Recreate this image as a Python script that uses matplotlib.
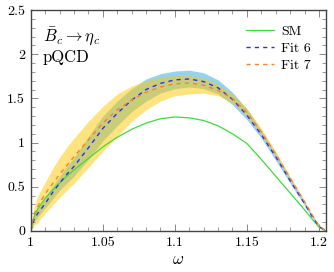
import numpy as np
import matplotlib
matplotlib.use("Agg")
import matplotlib.pyplot as plt
from matplotlib.ticker import MultipleLocator, FuncFormatter

plt.rcParams['font.family'] = 'serif'
plt.rcParams['font.serif'] = ['cmr10', 'DejaVu Serif']
plt.rcParams['mathtext.fontset'] = 'cm'
plt.rcParams['axes.formatter.use_mathtext'] = True

# valori
w = [1.0, 1.0025, 1.005, 1.01, 1.015, 1.02, 1.025, 1.03, 1.04, 1.05, 1.06, 1.07,
     1.08, 1.09, 1.10, 1.11, 1.12, 1.13, 1.14, 1.15, 1.16, 1.17, 1.18, 1.19,
     1.195, 1.20, 1.2049]

sm = [0, 0.17, 0.25, 0.37, 0.46, 0.54, 0.62, 0.69, 0.82, 0.95, 1.06, 1.15,
      1.22, 1.27, 1.29, 1.28, 1.25, 1.19, 1.10, 0.99, 0.81, 0.62, 0.43, 0.24,
      0.14, 0.045, 0]

fit6 = [0, 0.14, 0.20, 0.31, 0.43, 0.54, 0.64, 0.73, 0.94, 1.16, 1.33, 1.48,
        1.60, 1.67, 1.71, 1.72, 1.69, 1.62, 1.49, 1.31, 1.09, 0.84, 0.57, 0.31,
        0.17, 0.05, 0]
fit6_lo = [0, 0.11, 0.16, 0.26, 0.36, 0.46, 0.54, 0.62, 0.81, 1.02, 1.19, 1.35,
           1.47, 1.56, 1.61, 1.63, 1.61, 1.55, 1.43, 1.26, 1.05, 0.80, 0.54, 0.29,
           0.16, 0.045, 0]
fit6_hi = [0, 0.18, 0.25, 0.37, 0.50, 0.62, 0.73, 0.83, 1.07, 1.30, 1.47, 1.61,
           1.72, 1.78, 1.81, 1.82, 1.79, 1.71, 1.57, 1.38, 1.14, 0.88, 0.60, 0.33,
           0.19, 0.06, 0]

fit7 = [0, 0.20, 0.28, 0.42, 0.53, 0.64, 0.74, 0.84, 1.03, 1.22, 1.37, 1.48,
        1.57, 1.63, 1.665, 1.675, 1.65, 1.59, 1.50, 1.34, 1.12, 0.87, 0.60, 0.33,
        0.19, 0.06, 0]
fit7_lo = [0, 0.06, 0.10, 0.20, 0.29, 0.38, 0.46, 0.54, 0.72, 0.90, 1.07, 1.24,
           1.37, 1.47, 1.53, 1.55, 1.56, 1.53, 1.45, 1.30, 1.09, 0.85, 0.58, 0.32,
           0.18, 0.055, 0]
fit7_hi = [0, 0.28, 0.40, 0.55, 0.70, 0.83, 0.95, 1.05, 1.24, 1.41, 1.55, 1.64,
           1.70, 1.74, 1.76, 1.76, 1.73, 1.66, 1.55, 1.39, 1.16, 0.90, 0.62, 0.345,
           0.20, 0.065, 0]

fig = plt.figure(figsize=(3.34, 2.72), dpi=100)
ax = fig.add_axes([0.092, 0.151, 0.884, 0.812])

ax.fill_between(w, fit6_lo, fit6_hi, color='#93d3f0', lw=0)
ax.fill_between(w, fit7_lo, fit7_hi, color='#ffc800', alpha=0.5, lw=0)

ax.plot(w, sm, color='#3ddc3d', lw=0.9, label='SM')
ax.plot(w, fit6, color='#2b2bff', lw=1.0, dashes=(3, 3), label='Fit 6')
ax.plot(w, fit7, color='#ff7f2a', lw=1.0, dashes=(3, 3), label='Fit 7')

ax.set_xlim(1, 1.2049)
ax.set_ylim(0, 2.5)
ax.xaxis.set_major_locator(MultipleLocator(0.05))
ax.xaxis.set_minor_locator(MultipleLocator(0.01))
ax.yaxis.set_major_locator(MultipleLocator(0.5))
ax.yaxis.set_minor_locator(MultipleLocator(0.1))
fmt = FuncFormatter(lambda v, p: '%g' % round(v, 3))
ax.xaxis.set_major_formatter(fmt)
ax.yaxis.set_major_formatter(fmt)
ax.tick_params(which='both', direction='in', top=True, right=True,
               color='#888888', labelsize=10, pad=4)
ax.tick_params(which='major', length=5, width=0.7)
ax.tick_params(which='minor', length=3, width=0.6)
for s in ax.spines.values():
    s.set_color('#444444')
    s.set_linewidth(1.0)

ax.set_xlabel(r'$\omega$', fontsize=12, labelpad=2)
ax.text(0.04, 0.855, r'$\bar{B}_c \to \eta_c$', transform=ax.transAxes,
        fontsize=12, va='baseline')
ax.text(0.04, 0.764, 'pQCD', transform=ax.transAxes, fontsize=12, va='baseline')

ax.legend(loc='upper right', frameon=False, fontsize=10, handlelength=2.0,
          handletextpad=0.5, labelspacing=0.3, borderaxespad=0.7)

fig.savefig('out.png', dpi=100)
